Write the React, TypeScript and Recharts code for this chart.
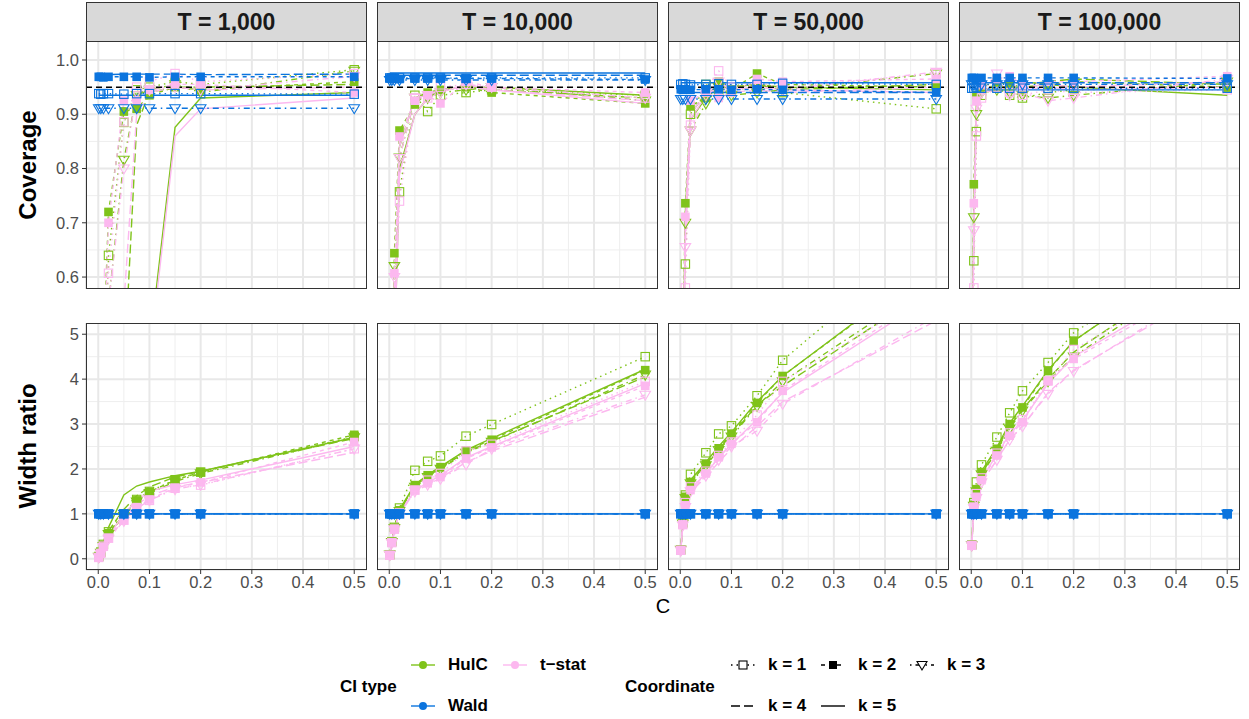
import React from 'react';
import { LineChart, Line, XAxis, YAxis, CartesianGrid, ReferenceLine } from 'recharts';

// tuning parameter C on the x axis
const C_VALUES = [0.001, 0.005, 0.01, 0.02, 0.05, 0.075, 0.1, 0.15, 0.2, 0.5];
const T_LABELS = ['T = 1,000', 'T = 10,000', 'T = 50,000', 'T = 100,000'];

const X_TICKS = [0, 0.1, 0.2, 0.3, 0.4, 0.5];
const X_MINOR = [0.05, 0.15, 0.25, 0.35, 0.45];
const COV_TICKS = [0.6, 0.7, 0.8, 0.9, 1.0];
const COV_MINOR = [0.65, 0.75, 0.85, 0.95];
const WIDTH_TICKS = [0, 1, 2, 3, 4, 5];
const WIDTH_MINOR = [0.5, 1.5, 2.5, 3.5, 4.5];

// coverage, rows = k1..k5, columns follow C_VALUES
const HULC_COV_T1000 = [
  [0.05, 0.1, 0.3, 0.64, 0.885, 0.945, 0.95, 0.96, 0.955, 0.982],
  [0.1, 0.2, 0.45, 0.72, 0.905, 0.91, 0.935, 0.95, 0.945, 0.96],
  [0.05, 0.1, 0.25, 0.55, 0.816, 0.935, 0.945, 0.955, 0.94, 0.98],
  [0.0, 0.05, 0.1, 0.25, 0.42, 0.88, 0.94, 0.95, 0.95, 0.955],
  [0.0, 0.0, 0.0, 0.05, 0.15, 0.3, 0.47, 0.876, 0.93, 0.94],
];
const TSTAT_COV_T1000 = [
  [0.05, 0.1, 0.28, 0.607, 0.886, 0.95, 0.96, 0.975, 0.96, 0.975],
  [0.1, 0.18, 0.42, 0.7, 0.925, 0.925, 0.945, 0.955, 0.955, 0.94],
  [0.05, 0.1, 0.25, 0.55, 0.8, 0.94, 0.945, 0.95, 0.945, 0.97],
  [0.0, 0.05, 0.1, 0.25, 0.55, 0.9, 0.94, 0.95, 0.945, 0.95],
  [0.0, 0.0, 0.0, 0.05, 0.15, 0.3, 0.45, 0.86, 0.91, 0.93],
];
const WALD_COV_T1000 = [
  [0.938, 0.937, 0.938, 0.938, 0.937, 0.938, 0.938, 0.938, 0.938, 0.937],
  [0.969, 0.969, 0.968, 0.969, 0.969, 0.969, 0.968, 0.969, 0.969, 0.969],
  [0.911, 0.911, 0.911, 0.911, 0.911, 0.911, 0.911, 0.911, 0.911, 0.911],
  [0.974, 0.974, 0.974, 0.973, 0.974, 0.974, 0.974, 0.974, 0.973, 0.974],
  [0.935, 0.935, 0.935, 0.935, 0.935, 0.935, 0.935, 0.935, 0.935, 0.935],
];

const HULC_COV_T10000 = [
  [0.0, 0.1, 0.55, 0.757, 0.935, 0.905, 0.935, 0.94, 0.945, 0.935],
  [0.05, 0.2, 0.644, 0.87, 0.918, 0.94, 0.945, 0.95, 0.94, 0.92],
  [0.0, 0.15, 0.62, 0.82, 0.93, 0.93, 0.94, 0.945, 0.95, 0.925],
  [0.0, 0.1, 0.5, 0.84, 0.93, 0.94, 0.945, 0.95, 0.945, 0.93],
  [0.0, 0.1, 0.45, 0.8, 0.9, 0.93, 0.945, 0.95, 0.95, 0.935],
];
const TSTAT_COV_T10000 = [
  [0.0, 0.1, 0.5, 0.74, 0.93, 0.93, 0.95, 0.955, 0.95, 0.93],
  [0.05, 0.2, 0.607, 0.859, 0.925, 0.935, 0.92, 0.96, 0.95, 0.94],
  [0.0, 0.15, 0.6, 0.819, 0.93, 0.935, 0.94, 0.955, 0.95, 0.93],
  [0.0, 0.1, 0.5, 0.84, 0.93, 0.935, 0.945, 0.95, 0.945, 0.925],
  [0.0, 0.1, 0.45, 0.79, 0.9, 0.93, 0.94, 0.955, 0.945, 0.92],
];
const WALD_COV_T10000 = [
  [0.967, 0.967, 0.966, 0.967, 0.967, 0.967, 0.967, 0.966, 0.967, 0.967],
  [0.966, 0.966, 0.966, 0.965, 0.966, 0.966, 0.966, 0.966, 0.966, 0.964],
  [0.963, 0.963, 0.963, 0.963, 0.963, 0.963, 0.963, 0.963, 0.963, 0.963],
  [0.972, 0.972, 0.972, 0.972, 0.972, 0.972, 0.972, 0.972, 0.972, 0.972],
  [0.976, 0.976, 0.976, 0.976, 0.976, 0.976, 0.976, 0.976, 0.976, 0.976],
];

const HULC_COV_T50000 = [
  [0.0, 0.3, 0.624, 0.9, 0.955, 0.94, 0.945, 0.95, 0.94, 0.91],
  [0.05, 0.45, 0.736, 0.915, 0.93, 0.96, 0.945, 0.975, 0.955, 0.95],
  [0.0, 0.4, 0.7, 0.87, 0.92, 0.95, 0.935, 0.94, 0.945, 0.975],
  [0.0, 0.4, 0.72, 0.9, 0.94, 0.945, 0.95, 0.955, 0.945, 0.955],
  [0.0, 0.4, 0.7, 0.89, 0.93, 0.95, 0.95, 0.955, 0.95, 0.945],
];
const TSTAT_COV_T50000 = [
  [0.0, 0.3, 0.58, 0.88, 0.945, 0.98, 0.95, 0.955, 0.95, 0.975],
  [0.05, 0.45, 0.711, 0.925, 0.94, 0.93, 0.94, 0.965, 0.96, 0.965],
  [0.0, 0.4, 0.655, 0.87, 0.935, 0.96, 0.945, 0.95, 0.945, 0.978],
  [0.0, 0.4, 0.7, 0.9, 0.94, 0.945, 0.94, 0.945, 0.94, 0.95],
  [0.0, 0.4, 0.68, 0.89, 0.935, 0.95, 0.945, 0.95, 0.945, 0.94],
];
const WALD_COV_T50000 = [
  [0.955, 0.956, 0.955, 0.954, 0.955, 0.956, 0.955, 0.955, 0.957, 0.955],
  [0.946, 0.945, 0.946, 0.945, 0.946, 0.946, 0.945, 0.946, 0.945, 0.94],
  [0.928, 0.928, 0.928, 0.928, 0.928, 0.928, 0.928, 0.928, 0.928, 0.928],
  [0.94, 0.94, 0.94, 0.94, 0.94, 0.94, 0.94, 0.94, 0.94, 0.94],
  [0.958, 0.958, 0.958, 0.958, 0.958, 0.958, 0.958, 0.958, 0.958, 0.958],
];

const HULC_COV_T100000 = [
  [0.3, 0.63, 0.868, 0.935, 0.95, 0.935, 0.93, 0.94, 0.945, 0.95],
  [0.4, 0.771, 0.935, 0.95, 0.96, 0.955, 0.96, 0.955, 0.96, 0.95],
  [0.35, 0.71, 0.9, 0.94, 0.945, 0.94, 0.935, 0.93, 0.935, 0.96],
  [0.35, 0.72, 0.92, 0.945, 0.95, 0.95, 0.955, 0.96, 0.965, 0.955],
  [0.35, 0.7, 0.91, 0.94, 0.945, 0.95, 0.95, 0.955, 0.95, 0.935],
];
const TSTAT_COV_T100000 = [
  [0.25, 0.58, 0.86, 0.93, 0.95, 0.94, 0.935, 0.945, 0.94, 0.945],
  [0.4, 0.736, 0.925, 0.955, 0.965, 0.97, 0.955, 0.96, 0.96, 0.97],
  [0.3, 0.686, 0.91, 0.94, 0.975, 0.935, 0.94, 0.925, 0.93, 0.965],
  [0.3, 0.7, 0.91, 0.945, 0.95, 0.955, 0.95, 0.955, 0.95, 0.96],
  [0.3, 0.68, 0.9, 0.94, 0.945, 0.95, 0.945, 0.95, 0.945, 0.95],
];
const WALD_COV_T100000 = [
  [0.948, 0.948, 0.949, 0.948, 0.948, 0.948, 0.948, 0.948, 0.948, 0.948],
  [0.967, 0.967, 0.966, 0.967, 0.967, 0.967, 0.967, 0.967, 0.967, 0.966],
  [0.955, 0.955, 0.955, 0.955, 0.955, 0.955, 0.955, 0.955, 0.955, 0.955],
  [0.958, 0.958, 0.958, 0.958, 0.958, 0.958, 0.958, 0.958, 0.958, 0.958],
  [0.945, 0.945, 0.945, 0.945, 0.945, 0.945, 0.945, 0.945, 0.945, 0.945],
];

// width ratio (relative to Wald)
const HULC_WIDTH_T1000 = [
  [0.05, 0.15, 0.32, 0.6, 1.0, 1.32, 1.5, 1.76, 1.93, 2.72],
  [0.04, 0.14, 0.3, 0.57, 0.97, 1.3, 1.49, 1.75, 1.93, 2.76],
  [0.04, 0.13, 0.28, 0.55, 0.95, 1.27, 1.46, 1.72, 1.9, 2.7],
  [0.05, 0.15, 0.33, 0.62, 1.1, 1.4, 1.6, 1.82, 1.95, 2.68],
  [0.06, 0.18, 0.38, 0.7, 1.42, 1.62, 1.71, 1.85, 1.95, 2.7],
];
const TSTAT_WIDTH_T1000 = [
  [0.03, 0.12, 0.28, 0.46, 0.86, 1.13, 1.3, 1.57, 1.64, 2.45],
  [0.03, 0.12, 0.27, 0.46, 0.86, 1.15, 1.32, 1.58, 1.7, 2.6],
  [0.03, 0.11, 0.26, 0.44, 0.84, 1.12, 1.3, 1.55, 1.65, 2.45],
  [0.03, 0.12, 0.28, 0.48, 0.9, 1.2, 1.4, 1.6, 1.7, 2.37],
  [0.04, 0.14, 0.3, 0.5, 1.0, 1.3, 1.5, 1.65, 1.75, 2.5],
];
const HULC_WIDTH_T10000 = [
  [0.09, 0.38, 0.7, 1.13, 1.97, 2.17, 2.29, 2.73, 2.99, 4.5],
  [0.09, 0.38, 0.69, 1.08, 1.64, 1.86, 2.04, 2.41, 2.65, 4.2],
  [0.09, 0.37, 0.68, 1.06, 1.6, 1.82, 2.0, 2.36, 2.6, 4.1],
  [0.09, 0.38, 0.69, 1.08, 1.62, 1.84, 2.02, 2.38, 2.62, 4.05],
  [0.09, 0.38, 0.7, 1.1, 1.65, 1.87, 2.05, 2.42, 2.68, 4.22],
];
const TSTAT_WIDTH_T10000 = [
  [0.08, 0.36, 0.66, 1.02, 1.53, 1.75, 1.9, 2.4, 2.55, 3.95],
  [0.08, 0.36, 0.66, 1.02, 1.53, 1.68, 1.82, 2.23, 2.48, 3.85],
  [0.08, 0.35, 0.65, 1.0, 1.5, 1.65, 1.78, 2.1, 2.45, 3.65],
  [0.08, 0.35, 0.64, 1.0, 1.5, 1.65, 1.8, 2.15, 2.4, 3.6],
  [0.08, 0.36, 0.66, 1.02, 1.52, 1.7, 1.85, 2.25, 2.5, 3.9],
];
const HULC_WIDTH_T50000 = [
  [0.2, 0.8, 1.42, 1.88, 2.36, 2.78, 2.96, 3.63, 4.42, 7.3],
  [0.2, 0.79, 1.38, 1.71, 2.12, 2.46, 2.78, 3.47, 4.07, 6.6],
  [0.2, 0.78, 1.35, 1.68, 2.08, 2.42, 2.72, 3.4, 3.95, 6.2],
  [0.2, 0.78, 1.36, 1.7, 2.1, 2.44, 2.75, 3.42, 3.85, 6.1],
  [0.2, 0.8, 1.4, 1.75, 2.15, 2.5, 2.82, 3.5, 4.07, 6.63],
];
const TSTAT_WIDTH_T50000 = [
  [0.19, 0.76, 1.25, 1.6, 1.95, 2.3, 2.6, 3.2, 3.95, 6.0],
  [0.19, 0.76, 1.19, 1.53, 1.9, 2.26, 2.56, 3.04, 3.74, 5.98],
  [0.18, 0.74, 1.15, 1.5, 1.85, 2.2, 2.5, 2.85, 3.45, 5.4],
  [0.18, 0.74, 1.15, 1.48, 1.82, 2.15, 2.45, 2.95, 3.5, 5.3],
  [0.19, 0.76, 1.2, 1.55, 1.9, 2.25, 2.55, 3.1, 3.7, 5.9],
];
const HULC_WIDTH_T100000 = [
  [0.31, 1.25, 1.71, 2.09, 2.71, 3.25, 3.74, 4.37, 5.03, 7.3],
  [0.31, 1.2, 1.55, 1.93, 2.45, 3.0, 3.37, 4.18, 4.85, 7.2],
  [0.3, 1.18, 1.5, 1.88, 2.4, 2.9, 3.3, 3.95, 4.5, 6.8],
  [0.3, 1.18, 1.52, 1.9, 2.42, 2.95, 3.32, 4.0, 4.6, 6.9],
  [0.31, 1.2, 1.56, 1.95, 2.48, 3.02, 3.4, 4.2, 4.85, 7.2],
];
const TSTAT_WIDTH_T100000 = [
  [0.3, 1.15, 1.45, 1.8, 2.35, 2.8, 3.1, 3.96, 4.66, 6.6],
  [0.3, 1.15, 1.38, 1.75, 2.3, 2.74, 3.04, 3.96, 4.45, 6.4],
  [0.29, 1.12, 1.35, 1.7, 2.2, 2.65, 2.95, 3.67, 4.18, 6.3],
  [0.29, 1.12, 1.35, 1.7, 2.2, 2.65, 2.95, 3.7, 4.2, 6.2],
  [0.3, 1.15, 1.4, 1.78, 2.32, 2.78, 3.08, 3.9, 4.5, 6.5],
];
// Wald is the reference, so its ratio is 1 everywhere
const WALD_WIDTH = [1, 1, 1, 1, 1, 1, 1, 1, 1, 1];

const GREEN = '#7FC31A';
const PINK = '#FCB8EF';
const BLUE = '#0B74DE';

const CI_TYPES = [
  { id: 'hulc', color: GREEN },
  { id: 'tstat', color: PINK },
  { id: 'wald', color: BLUE },
];

const K_STYLES = [
  { dash: '1.5 4', shape: 'openSquare' },
  { dash: '4 4', shape: 'filledSquare' },
  { dash: '1.5 4 6 4', shape: 'openTriangle' },
  { dash: '9 4', shape: 'none' },
  { dash: undefined, shape: 'none' },
];

const FONT = '"Liberation Sans", Arial, Helvetica, sans-serif';

const COL_X = [86, 377, 668, 959];
const PLOT_W = 281;
const TOP_Y = 41;
const TOP_H = 248;
const BOT_Y = 323;
const BOT_H = 247;
const Y_AXIS_W = 46;
const X_AXIS_H = 26;
const X_DOMAIN = [-0.02395, 0.52495];

function marker(shape: string, color: string, id: string) {
  return (p: any) => {
    const { cx, cy, index } = p;
    const key = `${id}-${index}`;
    if (shape === 'none' || cx == null || cy == null || isNaN(cy)) return <g key={key} />;
    if (shape === 'openSquare')
      return <rect key={key} x={cx - 4.2} y={cy - 4.2} width={8.4} height={8.4} fill="none" stroke={color} strokeWidth={1.1} />;
    if (shape === 'filledSquare')
      return <rect key={key} x={cx - 4.3} y={cy - 4.3} width={8.6} height={8.6} fill={color} />;
    return (
      <path
        key={key}
        d={`M${cx - 5.3},${cy - 3.6} L${cx + 5.3},${cy - 3.6} L${cx},${cy + 5.4} Z`}
        fill="none"
        stroke={color}
        strokeWidth={1.1}
      />
    );
  };
}

interface PanelProps {
  col: number;
  metric: 'cov' | 'width';
  hulc: number[][];
  tstat: number[][];
  wald: number[][];
}

function Panel({ col, metric, hulc, tstat, wald }: PanelProps) {
  const rows = C_VALUES.map((c, i) => {
    const r: Record<string, number> = { c };
    for (let k = 0; k < 5; k++) {
      r[`hulc${k}`] = hulc[k][i];
      r[`tstat${k}`] = tstat[k][i];
      r[`wald${k}`] = wald[k][i];
    }
    return r;
  });

  const isCov = metric === 'cov';
  const yDomain = isCov ? [0.578, 1.035] : [-0.25, 5.25];
  const yTicks = isCov ? COV_TICKS : WIDTH_TICKS;
  const yMinor = isCov ? COV_MINOR : WIDTH_MINOR;
  const showY = col === 0;
  const plotTop = isCov ? TOP_Y : BOT_Y;
  const plotH = isCov ? TOP_H : BOT_H;
  const chartW = PLOT_W + (showY ? Y_AXIS_W : 0);
  const chartH = plotH + (isCov ? 0 : X_AXIS_H);
  const left = COL_X[col] - (showY ? Y_AXIS_W : 0);
  const tickStyle = { fill: '#4D4D4D', fontSize: 16.5, fontFamily: FONT };

  return (
    <>
      <div style={{ position: 'absolute', left, top: plotTop }}>
        <LineChart width={chartW} height={chartH} data={rows} margin={{ top: 0, right: 0, bottom: 0, left: 0 }}>
          <XAxis
            dataKey="c"
            type="number"
            domain={X_DOMAIN}
            ticks={X_TICKS}
            allowDataOverflow
            hide={isCov}
            height={X_AXIS_H}
            tickSize={4}
            tickMargin={2}
            axisLine={false}
            tickLine={{ stroke: '#333333' }}
            tick={tickStyle}
            tickFormatter={(v: number) => v.toFixed(1)}
            interval={0}
          />
          <YAxis
            type="number"
            domain={yDomain}
            ticks={yTicks}
            allowDataOverflow
            hide={!showY}
            width={Y_AXIS_W}
            tickSize={4}
            tickMargin={3}
            axisLine={false}
            tickLine={{ stroke: '#333333' }}
            tick={tickStyle}
            tickFormatter={(v: number) => (isCov ? v.toFixed(1) : String(v))}
            interval={0}
          />
          <XAxis xAxisId="minor" dataKey="c" type="number" domain={X_DOMAIN} ticks={X_MINOR} allowDataOverflow hide />
          <YAxis yAxisId="minor" type="number" domain={yDomain} ticks={yMinor} allowDataOverflow hide />
          <CartesianGrid xAxisId="minor" yAxisId="minor" stroke="#EEEEEE" strokeWidth={1} />
          <CartesianGrid stroke="#E8E8E8" strokeWidth={2} />
          {CI_TYPES.map((t) =>
            K_STYLES.map((ks, k) => (
              <Line
                key={`${t.id}${k}`}
                dataKey={`${t.id}${k}`}
                type="linear"
                stroke={t.color}
                strokeWidth={1.4}
                strokeDasharray={ks.dash}
                dot={marker(ks.shape, t.color, `${t.id}${k}`)}
                activeDot={false}
                isAnimationActive={false}
              />
            ))
          )}
          {isCov && <ReferenceLine y={0.95} stroke="#000000" strokeWidth={1.5} strokeDasharray="6 4" />}
        </LineChart>
      </div>
      <div
        style={{
          position: 'absolute',
          left: COL_X[col],
          top: plotTop,
          width: PLOT_W,
          height: plotH,
          border: '1px solid #333333',
          boxSizing: 'border-box',
          pointerEvents: 'none',
        }}
      />
    </>
  );
}

function KeySvg({ color, dash, shape, dot }: { color: string; dash?: string; shape?: string; dot?: boolean }) {
  return (
    <svg width={24} height={16} style={{ position: 'absolute', left: 0, top: -8 }}>
      <line x1={0} y1={8} x2={24} y2={8} stroke={color} strokeWidth={1.4} strokeDasharray={dash} />
      {dot && <circle cx={12} cy={8} r={4} fill={color} />}
      {shape === 'openSquare' && <rect x={8} y={4} width={8} height={8} fill="#fff" stroke={color} strokeWidth={1.1} />}
      {shape === 'filledSquare' && <rect x={8} y={4} width={8} height={8} fill={color} />}
      {shape === 'openTriangle' && (
        <path d="M7,4.5 L17,4.5 L12,13 Z" fill="#fff" stroke={color} strokeWidth={1.1} />
      )}
    </svg>
  );
}

function LegendItem({ x, y, label, children }: { x: number; y: number; label: string; children: React.ReactNode }) {
  return (
    <div style={{ position: 'absolute', left: x, top: y }}>
      {children}
      <div
        style={{
          position: 'absolute',
          left: 37,
          top: -11,
          fontSize: 17,
          fontWeight: 'bold',
          whiteSpace: 'nowrap',
          lineHeight: '22px',
          color: '#000',
        }}
      >
        {label}
      </div>
    </div>
  );
}

export default function App() {
  const cov = [
    [HULC_COV_T1000, TSTAT_COV_T1000, WALD_COV_T1000],
    [HULC_COV_T10000, TSTAT_COV_T10000, WALD_COV_T10000],
    [HULC_COV_T50000, TSTAT_COV_T50000, WALD_COV_T50000],
    [HULC_COV_T100000, TSTAT_COV_T100000, WALD_COV_T100000],
  ];
  const waldW = [WALD_WIDTH, WALD_WIDTH, WALD_WIDTH, WALD_WIDTH, WALD_WIDTH];
  const width = [
    [HULC_WIDTH_T1000, TSTAT_WIDTH_T1000],
    [HULC_WIDTH_T10000, TSTAT_WIDTH_T10000],
    [HULC_WIDTH_T50000, TSTAT_WIDTH_T50000],
    [HULC_WIDTH_T100000, TSTAT_WIDTH_T100000],
  ];

  return (
    <div
      style={{
        position: 'absolute',
        left: 0,
        top: 0,
        width: 1249,
        height: 719,
        background: '#fff',
        fontFamily: FONT,
        overflow: 'hidden',
      }}
    >
      {T_LABELS.map((t, i) => (
        <div
          key={t}
          style={{
            position: 'absolute',
            left: COL_X[i],
            top: 2,
            width: PLOT_W,
            height: 40,
            background: '#D9D9D9',
            border: '1px solid #333333',
            boxSizing: 'border-box',
            display: 'flex',
            alignItems: 'center',
            justifyContent: 'center',
            fontSize: 23,
            fontWeight: 'bold',
            color: '#1A1A1A',
          }}
        >
          {t}
        </div>
      ))}
      {cov.map((c, i) => (
        <Panel key={`cov${i}`} col={i} metric="cov" hulc={c[0]} tstat={c[1]} wald={c[2]} />
      ))}
      {width.map((w, i) => (
        <Panel key={`w${i}`} col={i} metric="width" hulc={w[0]} tstat={w[1]} wald={waldW} />
      ))}

      <div
        style={{
          position: 'absolute',
          left: 28,
          top: 165,
          transform: 'translate(-50%, -50%) rotate(-90deg)',
          fontSize: 24,
          fontWeight: 'bold',
          whiteSpace: 'nowrap',
        }}
      >
        Coverage
      </div>
      <div
        style={{
          position: 'absolute',
          left: 28,
          top: 446,
          transform: 'translate(-50%, -50%) rotate(-90deg)',
          fontSize: 24,
          fontWeight: 'bold',
          whiteSpace: 'nowrap',
        }}
      >
        Width ratio
      </div>
      <div
        style={{
          position: 'absolute',
          left: 663,
          top: 606,
          transform: 'translate(-50%, -50%)',
          fontSize: 20,
          color: '#000',
        }}
      >
        C
      </div>

      {/* legends */}
      <div style={{ position: 'absolute', left: 340, top: 676, fontSize: 17, fontWeight: 'bold', lineHeight: '22px' }}>
        CI type
      </div>
      <LegendItem x={411} y={665} label="HulC">
        <KeySvg color={GREEN} dot />
      </LegendItem>
      <LegendItem x={503} y={665} label="t−stat">
        <KeySvg color={PINK} dot />
      </LegendItem>
      <LegendItem x={411} y={706} label="Wald">
        <KeySvg color={BLUE} dot />
      </LegendItem>

      <div style={{ position: 'absolute', left: 625, top: 676, fontSize: 17, fontWeight: 'bold', lineHeight: '22px' }}>
        Coordinate
      </div>
      <LegendItem x={731} y={665} label="k = 1">
        <KeySvg color="#000" dash={K_STYLES[0].dash} shape="openSquare" />
      </LegendItem>
      <LegendItem x={821} y={665} label="k = 2">
        <KeySvg color="#000" dash={K_STYLES[1].dash} shape="filledSquare" />
      </LegendItem>
      <LegendItem x={910} y={665} label="k = 3">
        <KeySvg color="#000" dash={K_STYLES[2].dash} shape="openTriangle" />
      </LegendItem>
      <LegendItem x={731} y={706} label="k = 4">
        <KeySvg color="#000" dash={K_STYLES[3].dash} />
      </LegendItem>
      <LegendItem x={821} y={706} label="k = 5">
        <KeySvg color="#000" />
      </LegendItem>
    </div>
  );
}
